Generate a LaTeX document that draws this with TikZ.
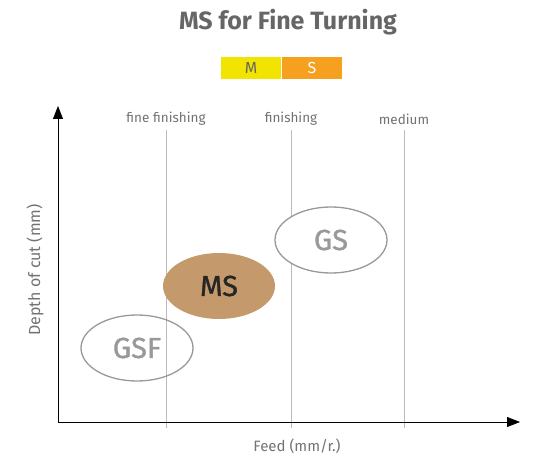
\documentclass[tikz,border=0pt]{standalone}
\usepackage{fontspec}
\setmainfont{Fira Sans}
\newfontfamily\gradefont[FakeBold=1.2]{Fira Sans}
\usepackage{tikz}
\usetikzlibrary{arrows.meta,shapes.geometric}
\definecolor{MyTitle}{HTML}{666666}
\definecolor{MyText}{HTML}{727272}
\definecolor{MyGrid}{HTML}{BBBBBB}
\definecolor{MyRing}{HTML}{999999}
\definecolor{MyYellow}{HTML}{F3E300}
\definecolor{MyOrange}{HTML}{F5A11F}
\definecolor{MyBrown}{HTML}{C49A6C}
\tikzset{
    grade/.style={
      ellipse,
      minimum width=112pt,
      minimum height=66pt,
      inner sep=0pt,
      font=\gradefont\fontsize{29}{29}\selectfont
    },
    tag/.style={
      text=MyText,
      font=\fontsize{13.5}{13.5}\selectfont
    },
    legendbox/.style={
      minimum width=60pt,
      minimum height=22pt,
      inner sep=0pt,
      font=\fontsize{16}{16}\selectfont
    },
}

\begin{document}
\begin{tikzpicture}[x=1pt,y=-1pt]
    \useasboundingbox (0,0) rectangle (540,462);

    % title and legend
    \node[text=MyTitle,font=\fontsize{25}{25}\selectfont\bfseries] at (288,22) (title) {MS for Fine Turning};
    \node[legendbox,fill=MyYellow,text=MyTitle] at (251,68) (legM) {M};
    \node[legendbox,fill=MyOrange,text=white] at (312,68) (legS) {S};

    % grid lines
    \foreach \x/\lab/\name in {166/fine finishing/ff, 291/finishing/fi, 404/medium/me} {
      \draw[MyGrid,thick] (\x,130) -- (\x,428);
      \node[tag] at (\x,119) (\name) {\lab};
    }

    % axes
    \coordinate (O) at (58,422);
    \coordinate (ytip) at (58,106);
    \coordinate (xtip) at (520,422);
    \draw[thick,-{Triangle[length=13pt,width=10pt]}] (O) -- (ytip);
    \draw[thick,-{Triangle[length=13pt,width=10pt]}] (O) -- (xtip);
    \node[tag,rotate=90,font=\fontsize{16}{16}\selectfont] at (35,270) (ylab) {Depth of cut (mm)};
    \node[tag,font=\fontsize{15}{15}\selectfont] at (297,446) (xlab) {Feed (mm/r.)};

    % grades
    \node[grade,draw=MyRing,line width=1.3pt,fill=white,text=MyRing] at (331,240) (GS) {GS};
    \node[grade,fill=MyBrown,text=black!85] at (219,286) (MS) {MS};
    \node[grade,draw=MyRing,line width=1.3pt,text=MyRing] at (137,348) (GSF) {GSF};

\end{tikzpicture}
\end{document}
